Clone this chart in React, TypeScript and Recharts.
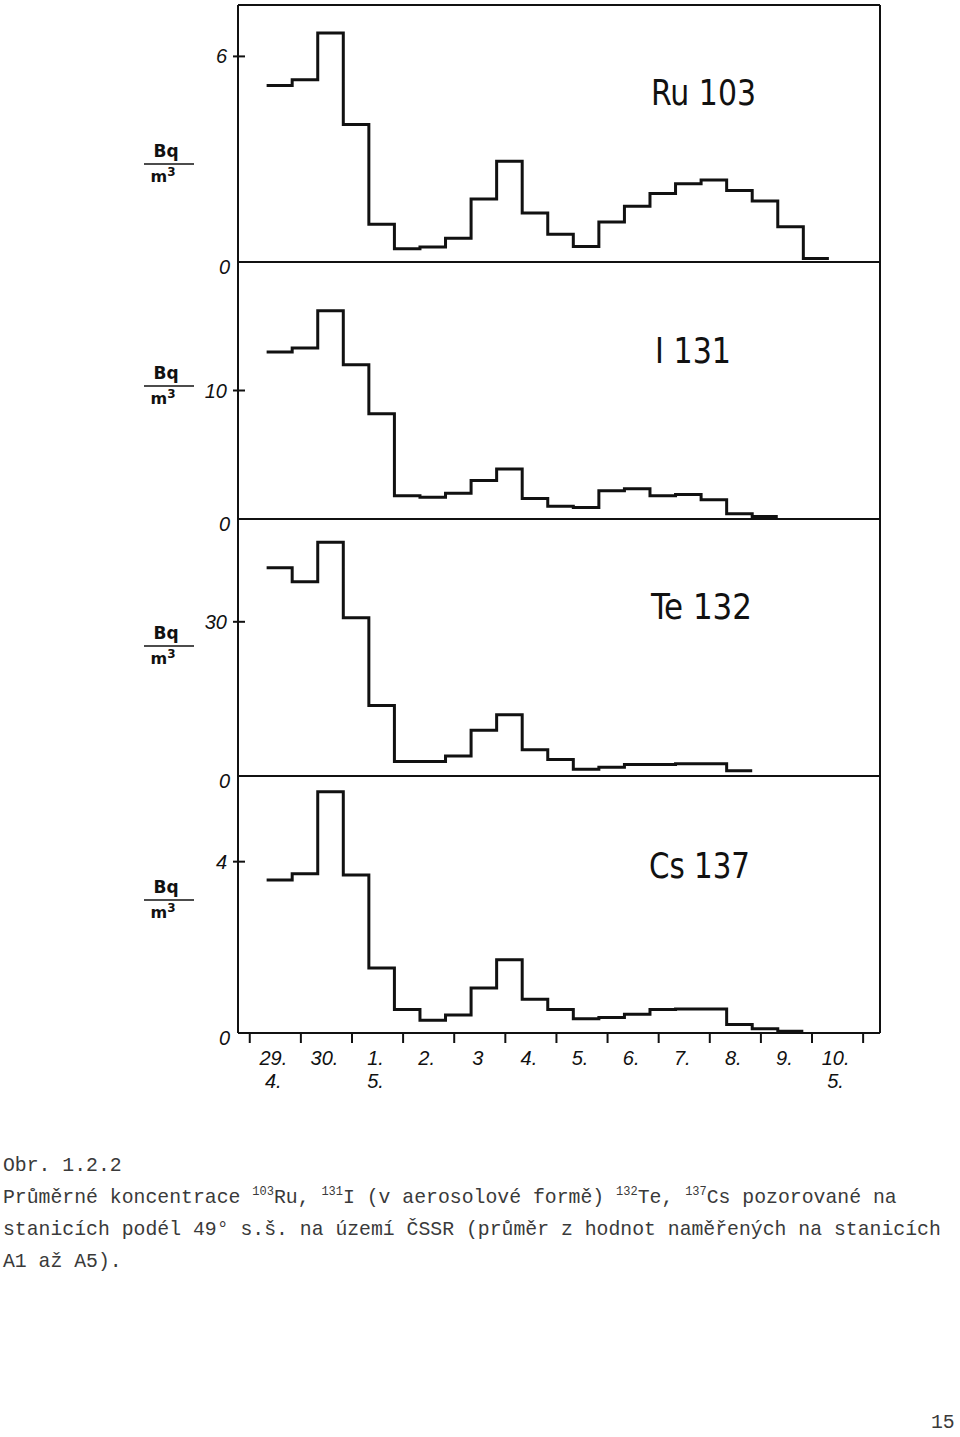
import React from 'react';
import { LineChart, Line, XAxis, YAxis, ReferenceLine } from 'recharts';

// bottom axis: one tick per day, label in the middle of each day
const dayTicks = [0, 1, 2, 3, 4, 5, 6, 7, 8, 9, 10, 11, 12];
const dayLabels = ['29.', '30.', '1.', '2.', '3', '4.', '5.', '6.', '7.', '8.', '9.', '10.'];
const monthLabels = ['4.', '', '5.', '', '', '', '', '', '', '', '', '5.'];

// half-day mean concentrations, Bq/m3
const ru103 = [5.15, 5.32, 6.68, 4.01, 1.1, 0.39, 0.44, 0.69, 1.84, 2.94, 1.43, 0.81, 0.45, 1.17, 1.63, 2.0, 2.28, 2.39, 2.09, 1.78, 1.03, 0.1];
const i131 = [13.0, 13.3, 16.2, 12.0, 8.2, 1.8, 1.7, 2.0, 3.0, 3.9, 1.6, 1.0, 0.9, 2.2, 2.35, 1.8, 1.9, 1.5, 0.4, 0.2];
const te132 = [40.5, 37.8, 45.5, 30.8, 13.7, 2.8, 2.8, 3.9, 8.9, 11.9, 5.1, 3.2, 1.3, 1.7, 2.25, 2.25, 2.4, 2.4, 1.0];
const cs137 = [3.57, 3.72, 5.63, 3.69, 1.52, 0.55, 0.3, 0.42, 1.05, 1.71, 0.79, 0.55, 0.33, 0.36, 0.44, 0.55, 0.56, 0.56, 0.2, 0.1, 0.04];

const FIRST_STEP = 0.33;
const STEP = 0.5;
const X_MIN = -0.23;
const X_MAX = 12.33;

const PLOT_LEFT = 238;
const PLOT_RIGHT = 880;
const PLOT_H = 257;
const DAY_PX = (PLOT_RIGHT - PLOT_LEFT) / (X_MAX - X_MIN);
const INK = '#111';

const panels = [
  { name: 'Ru 103', values: ru103, yMax: 7.5, tick: 6, nameX: 651, nameY: 105, nameW: 105, bqLine: 164 },
  { name: 'I 131', values: i131, yMax: 20, tick: 10, nameX: 655, nameY: 363, nameW: 76, bqLine: 386 },
  { name: 'Te 132', values: te132, yMax: 50, tick: 30, nameX: 651, nameY: 619, nameW: 101, bqLine: 646 },
  { name: 'Cs 137', values: cs137, yMax: 6, tick: 4, nameX: 649, nameY: 878, nameW: 101, bqLine: 900 },
];

function toSteps(values: number[]) {
  const pts = values.map((v, i) => ({ t: FIRST_STEP + i * STEP, v }));
  pts.push({ t: FIRST_STEP + values.length * STEP, v: values[values.length - 1] });
  return pts;
}

function YTick(props: any) {
  const { x, y, payload } = props;
  if (payload.value === 0) {
    return (
      <text x={x - 8} y={y + 12} textAnchor="end" fontSize={20} fontStyle="italic" fontFamily="Liberation Sans, Arial, sans-serif" fill={INK}>
        0
      </text>
    );
  }
  return (
    <g>
      <line x1={x - 5} x2={x + 7} y1={y} y2={y} stroke={INK} strokeWidth={2} />
      <text x={x - 11} y={y + 7} textAnchor="end" fontSize={20} fontStyle="italic" fontFamily="Liberation Sans, Arial, sans-serif" fill={INK}>
        {payload.value}
      </text>
    </g>
  );
}

function XTick(props: any) {
  const { x, y, payload } = props;
  const i = payload.value;
  if (i >= dayLabels.length) return <g />;
  const cx = x + DAY_PX / 2 - 2;
  return (
    <g fontSize={20} fontStyle="italic" fontFamily="Liberation Sans, Arial, sans-serif" fill={INK}>
      <text x={cx} y={y + 20} textAnchor="middle">{dayLabels[i]}</text>
      {monthLabels[i] && <text x={cx} y={y + 43} textAnchor="middle">{monthLabels[i]}</text>}
    </g>
  );
}

function Panel({ idx }: { idx: number }) {
  const p = panels[idx];
  const isBottom = idx === panels.length - 1;
  const top = 5 + idx * PLOT_H;
  const marginTop = 5;
  const height = marginTop + PLOT_H + (isBottom ? 75 : 40);
  return (
    <div style={{ position: 'absolute', left: 0, top: top - marginTop }}>
      <LineChart
        width={960}
        height={height}
        data={toSteps(p.values)}
        margin={{ top: marginTop, right: 960 - PLOT_RIGHT, bottom: isBottom ? 5 : 40, left: 0 }}
      >
        <XAxis
          type="number"
          dataKey="t"
          domain={[X_MIN, X_MAX]}
          allowDataOverflow
          ticks={dayTicks}
          interval={0}
          hide={!isBottom}
          height={70}
          tickSize={10}
          tickMargin={2}
          axisLine={{ stroke: INK, strokeWidth: 2 }}
          tickLine={{ stroke: INK, strokeWidth: 2 }}
          tick={(tp: any) => <XTick {...tp} />}
        />
        <YAxis
          type="number"
          domain={[0, p.yMax]}
          allowDataOverflow
          ticks={[0, p.tick]}
          interval={0}
          width={PLOT_LEFT}
          tickSize={0}
          tickMargin={0}
          tickLine={false}
          axisLine={{ stroke: INK, strokeWidth: 2 }}
          tick={(tp: any) => <YTick {...tp} />}
        />
        {!isBottom && <ReferenceLine y={0} stroke={INK} strokeWidth={2} />}
        {idx === 0 && <ReferenceLine y={p.yMax} stroke={INK} strokeWidth={2} />}
        <ReferenceLine x={X_MAX} stroke={INK} strokeWidth={2} />
        <Line
          type="stepAfter"
          dataKey="v"
          stroke={INK}
          strokeWidth={3}
          dot={false}
          activeDot={false}
          isAnimationActive={false}
        />
      </LineChart>
    </div>
  );
}

const capStyle: React.CSSProperties = {
  position: 'absolute',
  left: 3,
  fontFamily: '"Liberation Mono", "DejaVu Sans Mono", monospace',
  fontSize: 19.8,
  lineHeight: '32px',
  color: '#3a3a3a',
  whiteSpace: 'pre',
};

const sup = (s: string) => (
  <span style={{ fontSize: 12, position: 'relative', top: -8, lineHeight: 0 }}>{s}</span>
);

export default function App() {
  return (
    <div style={{ position: 'absolute', left: 0, top: 0, width: 960, height: 1437, background: '#fff', overflow: 'hidden' }}>
      {panels.map((_, i) => (
        <Panel key={i} idx={i} />
      ))}
      <svg width={960} height={1100} style={{ position: 'absolute', left: 0, top: 0, pointerEvents: 'none' }}>
        {panels.map((p) => (
          <g key={p.name} fill={INK}>
            <text
              x={p.nameX}
              y={p.nameY}
              fontSize={36}
              fontFamily='"Liberation Sans Narrow", "DejaVu Sans Condensed", "Arial Narrow", sans-serif'
              textLength={p.nameW}
              lengthAdjust="spacingAndGlyphs"
            >
              {p.name}
            </text>
            <text x={166} y={p.bqLine - 7} textAnchor="middle" fontSize={17} fontWeight="bold" fontFamily="DejaVu Sans, sans-serif">
              Bq
            </text>
            <line x1={144} x2={194} y1={p.bqLine} y2={p.bqLine} stroke={INK} strokeWidth={1.6} />
            <text x={163} y={p.bqLine + 18} textAnchor="middle" fontSize={16} fontWeight="bold" fontFamily="DejaVu Sans, sans-serif">
              m<tspan dy={-6} fontSize={12}>3</tspan>
            </text>
          </g>
        ))}
      </svg>
      <div style={{ ...capStyle, top: 1150 }}>
        <div>Obr. 1.2.2</div>
        <div>
          Průměrné koncentrace {sup('103')}Ru, {sup('131')}I (v aerosolové formě) {sup('132')}Te, {sup('137')}Cs pozorované na
        </div>
        <div>stanicích podél 49° s.š. na území ČSSR (průměr z hodnot naměřených na stanicích</div>
        <div>A1 až A5).</div>
      </div>
      <div style={{ ...capStyle, left: 931, top: 1412, lineHeight: '22px' }}>15</div>
    </div>
  );
}
